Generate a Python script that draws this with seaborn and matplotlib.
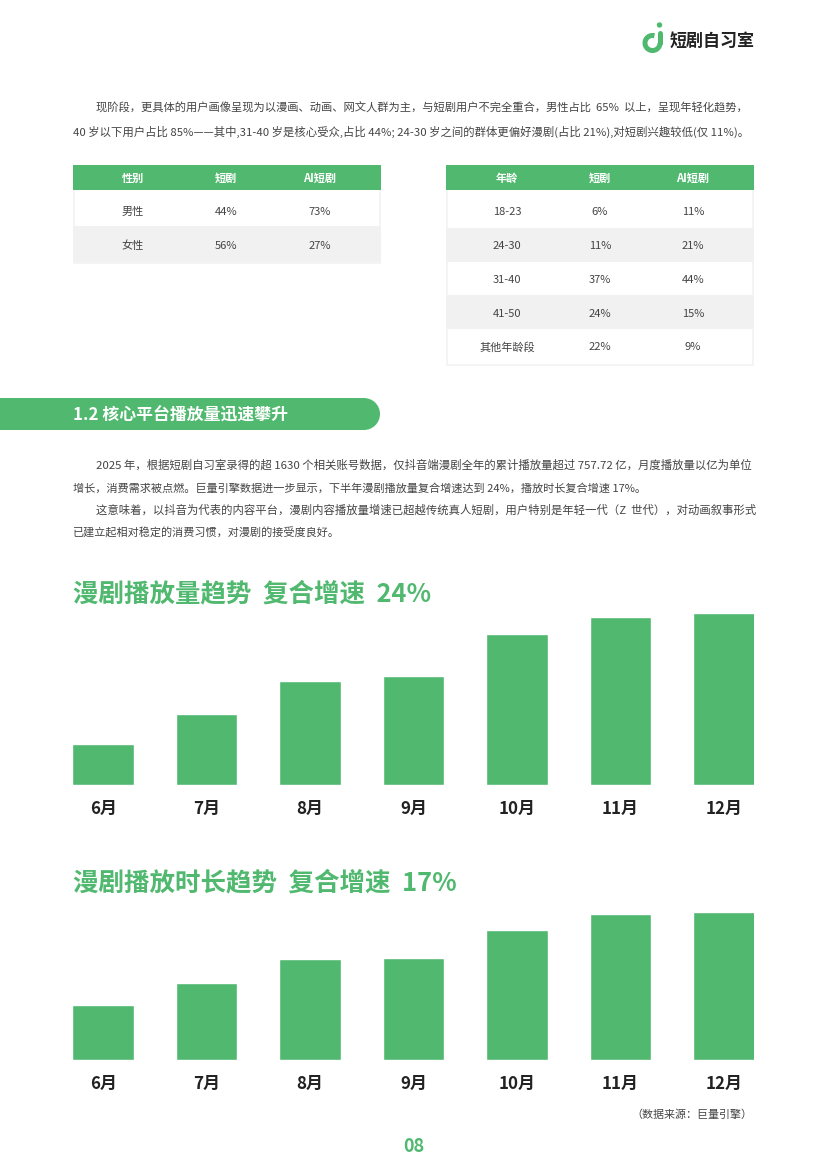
import matplotlib.pyplot as plt
import seaborn as sns
from matplotlib.patches import Arc, Circle, Rectangle

GREEN = "#51B96F"
GREY = "#F1F1F1"
BORDER = "#F4F4F4"
BODY = "#444444"
DARK = "#222222"

months = ["6月", "7月", "8月", "9月", "10月", "11月", "12月"]
views = [41.5, 71.5, 104.5, 109.5, 151.5, 168.5, 172.5]
hours = [55.5, 77.5, 101.5, 102.5, 130.5, 146.5, 148.5]

gender_header = ["性别", "短剧", "AI短剧"]
gender_rows = [["男性", "44%", "73%"], ["女性", "56%", "27%"]]
age_header = ["年龄", "短剧", "AI短剧"]
age_rows = [
    ["18-23", "6%", "11%"],
    ["24-30", "11%", "21%"],
    ["31-40", "37%", "44%"],
    ["41-50", "24%", "15%"],
    ["其他年龄段", "22%", "9%"],
]

# (text, left, right, y)
body_lines = [
    ("现阶段，更具体的用户画像呈现为以漫画、动画、网文人群为主，与短剧用户不完全重合，男性占比  65%  以上，呈现年轻化趋势，", 96, 748, 108),
    ("40 岁以下用户占比 85%——其中,31-40 岁是核心受众,占比 44%; 24-30 岁之间的群体更偏好漫剧(占比 21%),对短剧兴趣较低(仅 11%)。", 73, 749, 132),
    ("2025 年，根据短剧自习室录得的超 1630 个相关账号数据，仅抖音端漫剧全年的累计播放量超过 757.72 亿，月度播放量以亿为单位", 96, 754, 465),
    ("增长，消费需求被点燃。巨量引擎数据进一步显示，下半年漫剧播放量复合增速达到 24%，播放时长复合增速 17%。", 73, 650, 488),
    ("这意味着，以抖音为代表的内容平台，漫剧内容播放量增速已超越传统真人短剧，用户特别是年轻一代（Z  世代），对动画叙事形式", 96, 754, 510),
    ("已建立起相对稳定的消费习惯，对漫剧的接受度良好。", 73, 339, 533),
]

W, H = 822, 1174


def fit_text(ax, renderer, x0, x1, y, text, size, **kw):
    # nudge the font size until the line spans x0..x1, hinting makes one pass miss
    t = ax.text(x0, y, text, fontsize=size, va="center", ha="left", **kw)
    for _ in range(4):
        width = t.get_window_extent(renderer).width
        t.set_fontsize(t.get_fontsize() * (x1 - x0) / width)
    return t


def draw_table(ax, x0, x1, centers, header, rows, row_edges, text_ys):
    ax.add_patch(Rectangle((x0, 165), x1 - x0, 25, color=GREEN, lw=0))
    for cx, label in zip(centers, header):
        ax.text(cx, 178, label, color="white", fontsize=8, fontweight="bold",
                ha="center", va="center")
    bottom = row_edges[-1]
    ax.add_patch(Rectangle((x0, 190), x1 - x0, bottom - 190 + 1.5, color=BORDER, lw=0))
    ax.add_patch(Rectangle((x0 + 2, 190), x1 - x0 - 4, bottom - 190, color="white", lw=0))
    for i, row in enumerate(rows):
        top, low = row_edges[i], row_edges[i + 1]
        if i % 2 == 1:
            ax.add_patch(Rectangle((x0, top), x1 - x0, low - top, color=GREY, lw=0))
        for cx, label in zip(centers, row):
            ax.text(cx, text_ys[i], label, color=BODY, fontsize=8,
                    ha="center", va="center")


def draw_bars(fig, values, base_y):
    span = 180
    ax = fig.add_axes([72.6 / W, 1 - base_y / H, (754.4 - 72.6) / W, span / H])
    sns.barplot(x=months, y=values, color=GREEN, saturation=1, width=0.595, ax=ax)
    ax.set_xlim(-0.295, 6.295)
    ax.set_ylim(0, span)
    ax.patch.set_alpha(0)
    ax.set_yticks([])
    sns.despine(ax=ax, left=True, bottom=True)
    ax.tick_params(axis="x", length=0, pad=11, labelsize=12.2, labelcolor=DARK)
    for lab in ax.get_xticklabels():
        lab.set_fontweight("bold")
    return ax


sns.set_theme(style="white")
plt.rcParams["font.family"] = ["Noto Sans CJK SC", "DejaVu Sans"]

fig = plt.figure(figsize=(W / 100, H / 100), dpi=100, facecolor="white")
page = fig.add_axes([0, 0, 1, 1])
page.set_xlim(0, W)
page.set_ylim(H, 0)
page.axis("off")
renderer = fig.canvas.get_renderer()

# logo, y axis is flipped so the arc runs clockwise on screen
page.add_patch(Arc((652.5, 43), 15, 15, theta1=0, theta2=285, color=GREEN, lw=3.6))
page.plot([660, 660], [33, 43], color=GREEN, lw=3.6, solid_capstyle="round")
page.add_patch(Circle((659.5, 25), 2.7, color=GREEN, lw=0))
fit_text(page, renderer, 670, 755, 41, "短剧自习室", 12, color=DARK, fontweight="bold")

for text, left, right, y in body_lines:
    fit_text(page, renderer, left, right, y, text, 7.2, color=BODY)

draw_table(page, 73, 381, [133, 226, 320], gender_header, gender_rows,
           [190, 226, 262], [212, 246])
draw_table(page, 446, 754, [507, 600, 693], age_header, age_rows,
           [190, 228, 262, 295, 329, 364], [212, 246, 280, 314, 347])

# section banner, runs off the left edge
page.add_patch(Rectangle((0, 398), 364, 32, color=GREEN, lw=0))
page.add_patch(Circle((364, 414), 16, color=GREEN, lw=0))
fit_text(page, renderer, 73, 288, 416, "1.2 核心平台播放量迅速攀升", 11.5, color="white", fontweight="bold")

fit_text(page, renderer, 73, 430, 594, "漫剧播放量趋势  复合增速  24%", 19, color=GREEN, fontweight="bold")
fit_text(page, renderer, 73, 456, 883, "漫剧播放时长趋势  复合增速  17%", 19, color=GREEN, fontweight="bold")

draw_bars(fig, views, 785)
draw_bars(fig, hours, 1060)

fit_text(page, renderer, 631, 752, 1115, "（数据来源：巨量引擎）", 7.2, color=BODY)
page.text(413.5, 1147, "08", color=GREEN, fontsize=13, fontweight="bold", ha="center", va="center")

fig.savefig("out.png", dpi=100)
